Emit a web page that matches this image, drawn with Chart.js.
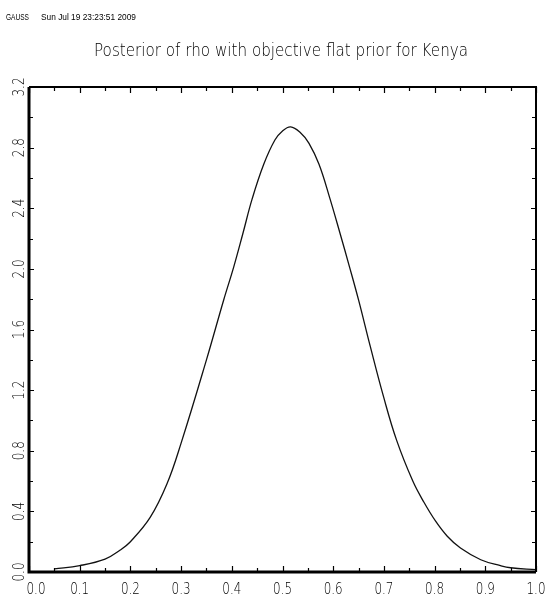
<!DOCTYPE html>
<html>
<head>
<meta charset="utf-8">
<script src="https://cdn.jsdelivr.net/npm/chart.js@4/dist/chart.umd.min.js"></script>
<style>
  html, body { margin: 0; padding: 0; background: #fff; }
  canvas { display: block; }
</style>
</head>
<body>
<canvas id="myChart" width="549" height="598"></canvas>
<script>
// posterior density of rho (flat prior), read at these rho values
const rhoValues = [0.05, 0.10, 0.15, 0.18, 0.20, 0.239, 0.272, 0.30, 0.35, 0.384, 0.404, 0.422, 0.440,
                   0.463, 0.485, 0.500, 0.516, 0.535, 0.552, 0.572, 0.593, 0.613, 0.632, 0.650, 0.673, 0.699, 0.725,
                   0.757, 0.779, 0.802, 0.825, 0.851, 0.891, 0.93, 0.95, 1.00];
const density = [0.020, 0.042, 0.085, 0.145, 0.200, 0.360, 0.580, 0.850, 1.400, 1.795, 2.015, 2.235, 2.460,
                 2.690, 2.850, 2.910, 2.937, 2.900, 2.830, 2.690, 2.470, 2.240, 2.015, 1.795, 1.490, 1.160, 0.870,
                 0.600, 0.460, 0.335, 0.236, 0.158, 0.081, 0.042, 0.028, 0.015];

// axis ticks: every 0.05 on x (labels on tenths), every 0.2 on y (labels on 0.4 steps)
const xTicks = [0, 0.05, 0.1, 0.15, 0.2, 0.25, 0.3, 0.35, 0.4, 0.45, 0.5, 0.55, 0.6, 0.65, 0.7, 0.75, 0.8, 0.85, 0.9, 0.95, 1.0];
const xLabels = ['0.0', '0.1', '0.2', '0.3', '0.4', '0.5', '0.6', '0.7', '0.8', '0.9', '1.0'];
const yTicks = [0, 0.2, 0.4, 0.6, 0.8, 1.0, 1.2, 1.4, 1.6, 1.8, 2.0, 2.2, 2.4, 2.6, 2.8, 3.0, 3.2];
const yLabels = ['0.0', '0.4', '0.8', '1.2', '1.6', '2.0', '2.4', '2.8', '3.2'];

const titleText = 'Posterior of rho with objective flat prior for Kenya';
const stampText = ['GAUSS', 'Sun Jul 19 23:23:51 2009'];

const points = rhoValues.map((r, i) => ({ x: r, y: density[i] }));

// squeeze text horizontally to a given width (plotter fonts are narrow)
function narrowText(ctx, text, x, y, width, align) {
    const w = ctx.measureText(text).width;
    const sx = width / w;
    ctx.save();
    ctx.translate(x, y);
    ctx.scale(sx, 1);
    ctx.textAlign = align || 'left';
    ctx.fillText(text, 0, 0);
    ctx.restore();
}

const thinFont = '"DejaVu Sans ExtraLight", "DejaVu Sans"';

const framePlugin = {
    id: 'gaussFrame',
    afterDraw(chart) {
        const ctx = chart.ctx;
        const area = chart.chartArea;
        const xs = chart.scales.x;
        const ys = chart.scales.y;

        ctx.save();
        ctx.fillStyle = '#000';
        ctx.textBaseline = 'alphabetic';

        // time stamp
        ctx.font = '9px "Liberation Sans"';
        narrowText(ctx, stampText[0], 6, 20, 23);
        narrowText(ctx, stampText[1], 41, 20, 95);

        // title
        ctx.font = '200 18px ' + thinFont;
        narrowText(ctx, titleText, 281, 56, 374, 'center');

        // frame
        ctx.strokeStyle = '#000';
        ctx.lineWidth = 2;
        ctx.beginPath();
        ctx.moveTo(area.left, area.top);
        ctx.lineTo(area.right, area.top);
        ctx.lineTo(area.right, area.bottom);
        ctx.stroke();
        ctx.lineWidth = 3;
        ctx.beginPath();
        ctx.moveTo(area.left, area.top);
        ctx.lineTo(area.left, area.bottom);
        ctx.lineTo(area.right, area.bottom);
        ctx.stroke();

        // inward ticks on all four sides
        ctx.lineWidth = 1.2;
        ctx.beginPath();
        xTicks.forEach((v, i) => {
            const px = Math.round(xs.getPixelForValue(v)) + 0.5;
            const len = i % 2 === 0 ? 6 : 4;
            ctx.moveTo(px, area.bottom);
            ctx.lineTo(px, area.bottom - len);
            ctx.moveTo(px, area.top);
            ctx.lineTo(px, area.top + len);
        });
        yTicks.forEach((v, i) => {
            const py = Math.round(ys.getPixelForValue(v)) + 0.5;
            const len = i % 2 === 0 ? 5 : 4;
            ctx.moveTo(area.left, py);
            ctx.lineTo(area.left + len, py);
            ctx.moveTo(area.right, py);
            ctx.lineTo(area.right - len, py);
        });
        ctx.stroke();

        // x labels
        ctx.font = '200 15px ' + thinFont;
        xLabels.forEach(lbl => {
            const px = xs.getPixelForValue(parseFloat(lbl));
            const shift = lbl === '0.0' ? 7 : 0;
            narrowText(ctx, lbl, px + shift, 594, 19, 'center');
        });

        // y labels, rotated
        yLabels.forEach(lbl => {
            const py = ys.getPixelForValue(parseFloat(lbl));
            ctx.save();
            ctx.translate(24, py);
            ctx.rotate(-Math.PI / 2);
            narrowText(ctx, lbl, 0, 0, 19, 'center');
            ctx.restore();
        });

        ctx.restore();
    }
};

const ctx = document.getElementById('myChart').getContext('2d');
const myChart = new Chart(ctx, {
    type: 'line',
    data: {
        datasets: [{
            data: points,
            borderColor: '#111',
            borderWidth: 1.3,
            pointRadius: 0,
            fill: false,
            tension: 0.4
        }]
    },
    options: {
        responsive: false,
        animation: false,
        devicePixelRatio: 1,
        layout: {
            padding: { left: 29, right: 13, top: 87, bottom: 26 }
        },
        scales: {
            x: { type: 'linear', min: 0, max: 1, display: false },
            y: { type: 'linear', min: 0, max: 3.2, display: false }
        },
        plugins: {
            legend: { display: false },
            tooltip: { enabled: false },
            title: { display: false }
        }
    },
    plugins: [framePlugin]
});
</script>
</body>
</html>
